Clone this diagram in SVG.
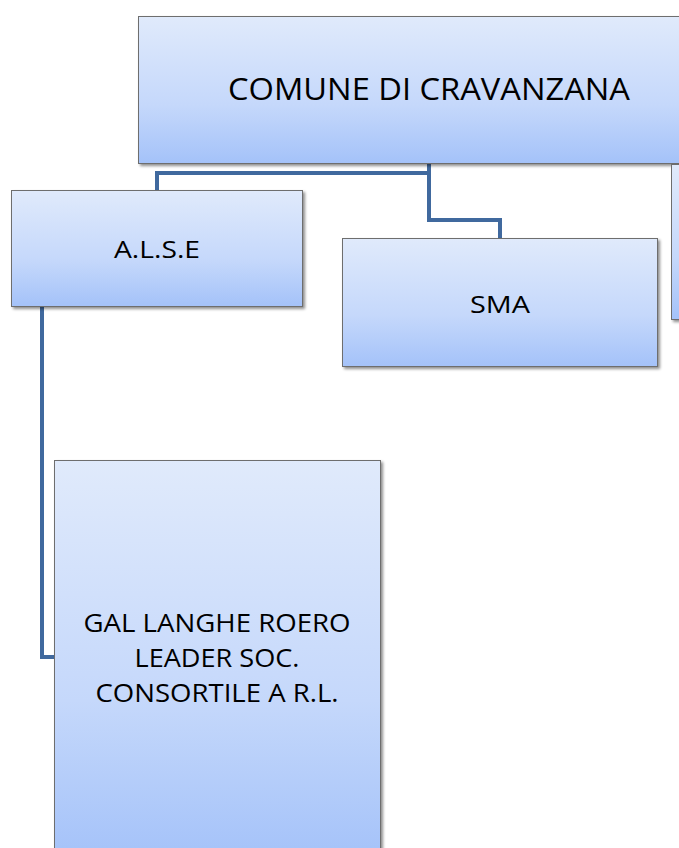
<svg xmlns="http://www.w3.org/2000/svg" width="679" height="848" viewBox="0 0 679 848">
<defs>
<linearGradient id="g" x1="0" y1="0" x2="0" y2="1">
<stop offset="0" stop-color="#e0eafb"/>
<stop offset="0.6" stop-color="#c5d8fb"/>
<stop offset="1" stop-color="#a4c2f9"/>
</linearGradient>
<filter id="sh" x="-5%" y="-5%" width="112%" height="112%">
<feGaussianBlur in="SourceAlpha" stdDeviation="1.5"/>
<feOffset dx="2" dy="2" result="b"/>
<feComponentTransfer><feFuncA type="linear" slope="0.45"/></feComponentTransfer>
<feMerge><feMergeNode/><feMergeNode in="SourceGraphic"/></feMerge>
</filter>
</defs>
<style>
.box{fill:url(#g);stroke:#6e6e6e;stroke-width:1;filter:url(#sh)}
.t{font-family:"Open Sans","Liberation Sans",sans-serif;fill:#000;text-anchor:middle}
.c{fill:none;stroke:#40699e;stroke-width:4;stroke-linejoin:miter}
</style>
<rect width="679" height="848" fill="#fff"/>
<g id="connectors">
<path class="c" d="M429 164 V173 H157 V190"/>
<path class="c" d="M429 173 V220 H500 V238"/>
<path class="c" d="M42 307 V657 H54"/>
</g>
<g id="n-comune">
<rect class="box" x="138.5" y="16.5" width="560" height="147"/>
<text class="t" x="429" y="100" font-size="31" textLength="402" lengthAdjust="spacingAndGlyphs">COMUNE DI CRAVANZANA</text>
</g>
<g id="n-right">
<rect class="box" x="671.5" y="164.5" width="40" height="155"/>
</g>
<g id="n-alse">
<rect class="box" x="11.5" y="190.5" width="291" height="116"/>
<text class="t" x="157" y="258" font-size="24" textLength="86" lengthAdjust="spacingAndGlyphs">A.L.S.E</text>
</g>
<g id="n-sma">
<rect class="box" x="342.5" y="238.5" width="315" height="128"/>
<text class="t" x="500" y="313" font-size="24" textLength="60" lengthAdjust="spacingAndGlyphs">SMA</text>
</g>
<g id="n-gal">
<rect class="box" x="54.5" y="460.5" width="326" height="400"/>
<text class="t" x="217" y="632" font-size="26" textLength="267" lengthAdjust="spacingAndGlyphs">GAL LANGHE ROERO</text>
<text class="t" x="217" y="667" font-size="26" textLength="165" lengthAdjust="spacingAndGlyphs">LEADER SOC.</text>
<text class="t" x="217" y="702" font-size="26" textLength="243" lengthAdjust="spacingAndGlyphs">CONSORTILE A R.L.</text>
</g>
</svg>
